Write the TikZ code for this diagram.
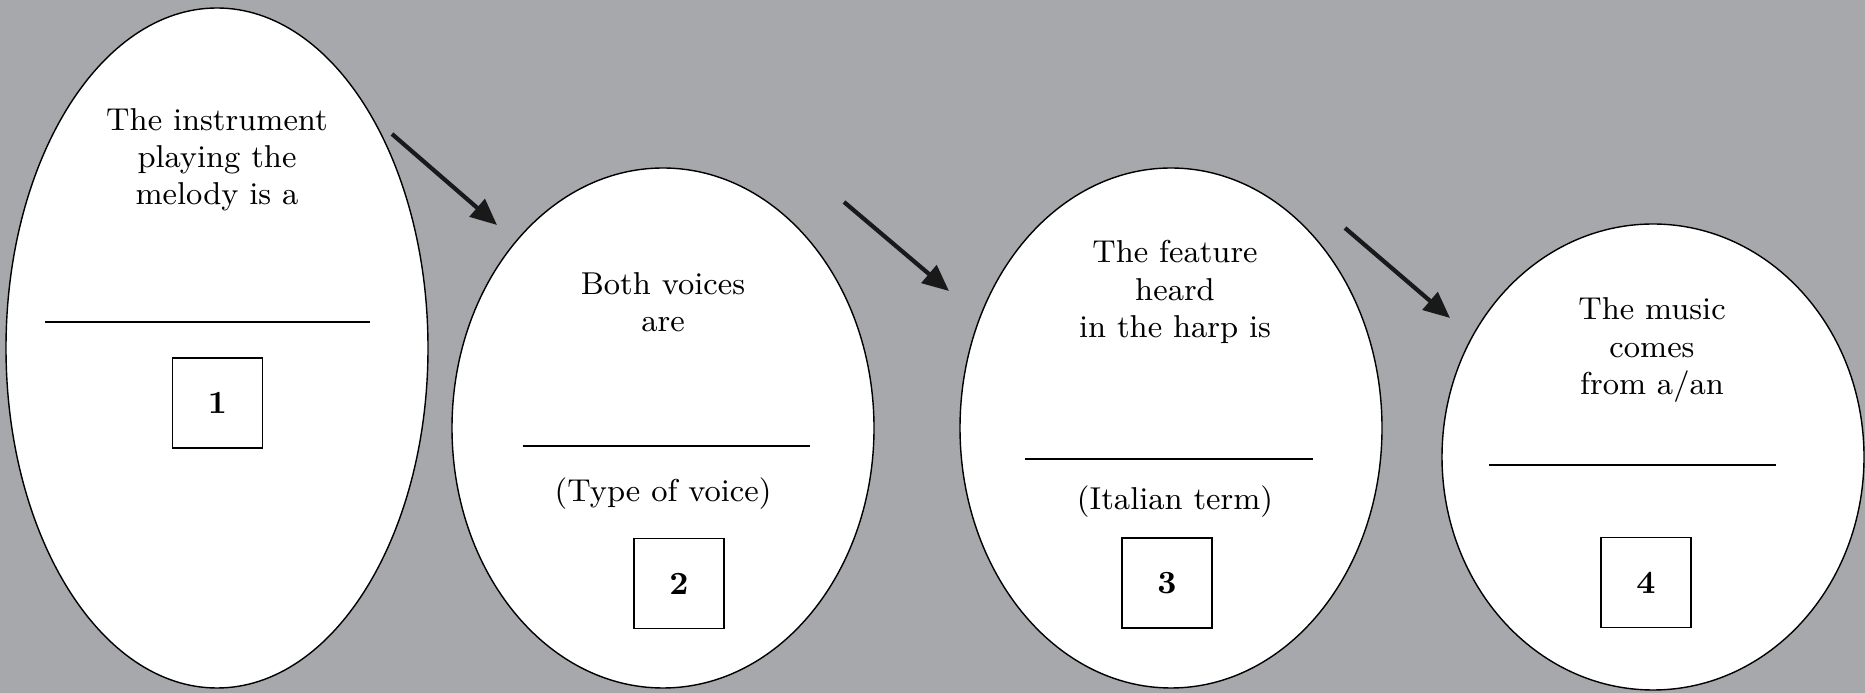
\documentclass[tikz,border=0pt]{standalone}
\usepackage{tikz}
\usetikzlibrary{arrows.meta,shapes.geometric}
\definecolor{bggray}{RGB}{167,168,172}
\tikzset{
	bubble/.style={ellipse, draw=black, fill=white, line width=0.4pt, inner sep=0pt},
	question/.style={align=center, font=\fontsize{9}{10.6}\selectfont},
	answerbox/.style={draw=black, fill=white, line width=0.4pt, minimum size=0.9cm, inner sep=0pt, font=\fontsize{9.2}{10.5}\selectfont\bfseries},
	blank/.style={line width=0.45pt},
	nextarrow/.style={line width=1.2pt, color=black!90, -{Triangle[length=7.5pt,width=6.5pt]}}
}

\begin{document}
\begin{tikzpicture}
			%%%%% START %%%%%
			
			\fill[bggray] (0, 0) rectangle (18.65, 6.93);
			\useasboundingbox (0, 0) rectangle (18.65, 6.93);
			
			% bubbles
			\node[bubble, minimum width=4.22cm, minimum height=6.80cm] (bubA) at (2.17, 3.45) {};
			\node[bubble, minimum width=4.22cm, minimum height=5.20cm] (bubB) at (6.63, 2.65) {};
			\node[bubble, minimum width=4.22cm, minimum height=5.20cm] (bubC) at (11.71, 2.65) {};
			\node[bubble, minimum width=4.22cm, minimum height=4.66cm] (bubD) at (16.53, 2.36) {};
			
			% first bubble
			\node[question] (qA) at (2.17, 5.33) {The instrument\\playing the\\melody is a};
			\draw[blank] (0.45, 3.71) -- (3.70, 3.71);
			\node[answerbox] (boxA) at (2.175, 2.90) {1};
			
			% second bubble
			\node[question] (qB) at (6.63, 3.91) {Both voices\\are};
			\draw[blank] (5.23, 2.47) -- (8.10, 2.47);
			\node[question] (hintB) at (6.63, 1.99) {(Type of voice)};
			\node[answerbox] (boxB) at (6.79, 1.095) {2};
			
			% third bubble
			\node[question] (qC) at (11.75, 4.01) {The feature\\heard\\in the harp is};
			\draw[blank] (10.25, 2.34) -- (13.13, 2.34);
			\node[question] (hintC) at (11.75, 1.91) {(Italian term)};
			\node[answerbox] (boxC) at (11.67, 1.10) {3};
			
			% fourth bubble
			\node[question] (qD) at (16.52, 3.43) {The music\\comes\\from a/an};
			\draw[blank] (14.89, 2.28) -- (17.76, 2.28);
			\node[answerbox] (boxD) at (16.46, 1.105) {4};
			
			% arrows
			\coordinate (arrA1) at (3.92, 5.59);
			\coordinate (arrA2) at (4.97, 4.68);
			\coordinate (arrB1) at (8.44, 4.91);
			\coordinate (arrB2) at (9.49, 4.02);
			\coordinate (arrC1) at (13.45, 4.65);
			\coordinate (arrC2) at (14.50, 3.75);
			\draw[nextarrow] (arrA1) -- (arrA2);
			\draw[nextarrow] (arrB1) -- (arrB2);
			\draw[nextarrow] (arrC1) -- (arrC2);
			
			%%%%% END %%%%%
\end{tikzpicture}
\end{document}
